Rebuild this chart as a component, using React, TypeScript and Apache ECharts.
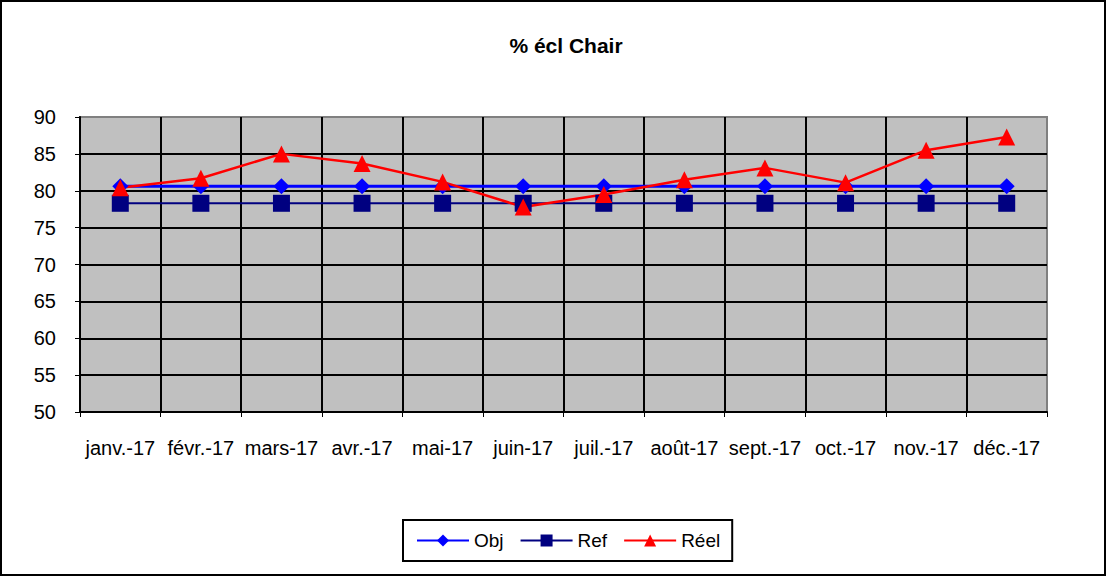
import React, { useEffect, useRef } from "react";
import * as echarts from "echarts";

const categories = ["janv.-17", "févr.-17", "mars-17", "avr.-17", "mai-17", "juin-17", "juil.-17", "août-17", "sept.-17", "oct.-17", "nov.-17", "déc.-17"];
const objValues = [80.6, 80.6, 80.6, 80.6, 80.6, 80.6, 80.6, 80.6, 80.6, 80.6, 80.6, 80.6];
const refValues = [78.3, 78.3, 78.3, 78.3, 78.3, 78.3, 78.3, 78.3, 78.3, 78.3, 78.3, 78.3];
const reelValues = [80.4, 81.7, 85.0, 83.7, 81.2, 77.8, 79.5, 81.5, 83.1, 81.1, 85.5, 87.3];
const yTicks = { min: 50, max: 90, interval: 5 };

const FONT = "'Liberation Sans', Arial, sans-serif";

export default function App() {
  const ref = useRef<HTMLDivElement>(null);
  useEffect(() => {
    if (!ref.current) return;
    const chart = echarts.init(ref.current, null, { renderer: "svg" });
    chart.setOption({
      animation: false,
      backgroundColor: "#ffffff",
      title: {
        text: "% écl Chair",
        left: 561,
        textAlign: "center",
        top: 30,
        textStyle: { fontFamily: FONT, fontSize: 21, fontWeight: "bold", color: "#000" },
      },
      grid: {
        left: 80,
        right: 59,
        top: 117,
        bottom: 164,
        show: true,
        backgroundColor: "#C0C0C0",
        borderColor: "#808080",
        borderWidth: 2,
      },
      xAxis: {
        type: "category",
        data: categories,
        boundaryGap: true,
        axisLine: { lineStyle: { color: "#000", width: 2 } },
        axisTick: { show: true, length: 5, lineStyle: { color: "#000", width: 1 } },
        axisLabel: { fontFamily: FONT, fontSize: 20, color: "#000", margin: 26, interval: 0 },
        splitLine: { show: true, showMaxLine: false, lineStyle: { color: "#000", width: 2 } },
      },
      yAxis: {
        type: "value",
        min: yTicks.min,
        max: yTicks.max,
        interval: yTicks.interval,
        axisLine: { show: true, lineStyle: { color: "#000", width: 2 } },
        axisTick: { show: true, length: 5, lineStyle: { color: "#000", width: 1 } },
        axisLabel: { fontFamily: FONT, fontSize: 20, color: "#000", margin: 24 },
        splitLine: { show: true, showMaxLine: false, lineStyle: { color: "#000", width: 2 } },
      },
      legend: {
        left: 403,
        top: 520,
        padding: [11, 12, 11, 13],
        borderColor: "#000",
        borderWidth: 2,
        backgroundColor: "#fff",
        itemWidth: 52,
        itemHeight: 15,
        itemGap: 16,
        textStyle: { fontFamily: FONT, fontSize: 19, color: "#000" },
        data: ["Obj", "Ref", "Réel"],
      },
      series: [
        {
          name: "Obj",
          type: "line",
          data: objValues,
          symbol: "diamond",
          symbolSize: 16,
          itemStyle: { color: "#0000FF" },
          lineStyle: { color: "#0000FF", width: 3 },
        },
        {
          name: "Ref",
          type: "line",
          data: refValues,
          symbol: "rect",
          symbolSize: 17,
          itemStyle: { color: "#000080" },
          lineStyle: { color: "#000080", width: 2 },
        },
        {
          name: "Réel",
          type: "line",
          data: reelValues,
          symbol: "triangle",
          symbolSize: 17,
          itemStyle: { color: "#FF0000" },
          lineStyle: { color: "#FF0000", width: 2.5 },
        },
      ],
    });
    return () => chart.dispose();
  }, []);
  return (
    <div
      style={{
        position: "absolute",
        left: 0,
        top: 0,
        width: 1106,
        height: 576,
        boxSizing: "border-box",
        border: "2px solid #000",
        background: "#fff",
        overflow: "hidden",
      }}
    >
      <div ref={ref} style={{ position: "absolute", left: -2, top: -2, width: 1106, height: 576 }} />
    </div>
  );
}
